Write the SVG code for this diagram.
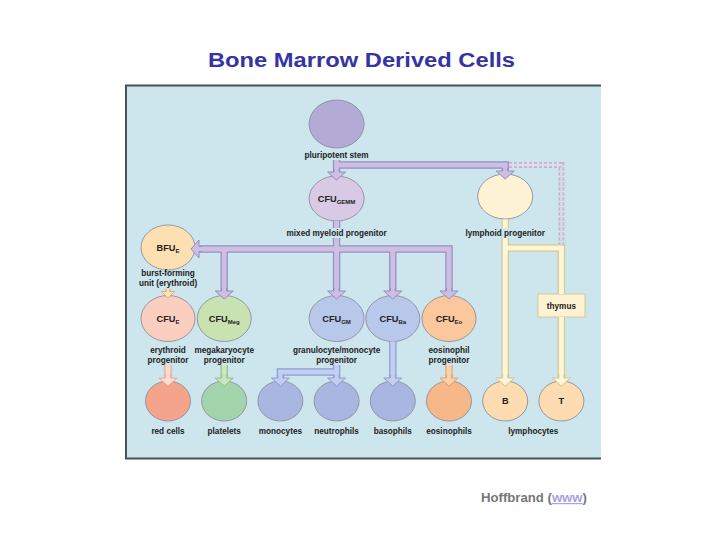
<svg xmlns="http://www.w3.org/2000/svg" xmlns:xlink="http://www.w3.org/1999/xlink" width="720" height="540" viewBox="0 0 720 540">
<style>
.lbl{font-family:"Liberation Sans",Arial,sans-serif;font-size:8.2px;font-weight:bold;fill:#1c1c1c;text-anchor:middle}
.cfu{font-family:"Liberation Sans",Arial,sans-serif;font-size:9.2px;font-weight:bold;fill:#222;text-anchor:middle}
.sub{font-size:6px}
.node{stroke:#8f8f9c;stroke-width:0.9}
.e{fill:none;stroke-width:7.4;stroke-linejoin:miter;stroke-linecap:butt}
.i{fill:none;stroke-width:5;stroke-linejoin:miter;stroke-linecap:butt}
.lav-e{stroke:#988cc2}.lav-i{stroke:#cbc0e2}.lav-h{fill:#cbc0e2;stroke:#988cc2;stroke-width:1}
.cr-e{stroke:#d6c78e}.cr-i{stroke:#fdf5d8}.cr-h{fill:#fdf5d8;stroke:#d6c78e;stroke-width:1}
.pk-e{stroke:#e8a898}.pk-i{stroke:#fbdcd2}.pk-h{fill:#fbdcd2;stroke:#e8a898;stroke-width:1}
.gr-e{stroke:#8fc090}.gr-i{stroke:#cbe6bc}.gr-h{fill:#cbe6bc;stroke:#8fc090;stroke-width:1}
.bl-e{stroke:#8c9dd2}.bl-i{stroke:#c2cff0}.bl-h{fill:#c2cff0;stroke:#8c9dd2;stroke-width:1}
.or-e{stroke:#e8a070}.or-i{stroke:#fbd2ac}.or-h{fill:#fbd2ac;stroke:#e8a070;stroke-width:1}
.lo-h{fill:#fde3b6;stroke:#dcae70;stroke-width:1}
</style>
<defs>
<path id="hd" d="M-2.5,-3 V0 H-9 L0,8 L9,0 H2.5 V-3"/>
<path id="hs" d="M-1.8,-3 V0 H-6.5 L0,6.5 L6.5,0 H1.8 V-3"/>
</defs>

<text x="361.5" y="67" font-family="Liberation Sans, Arial, sans-serif" font-size="19.5" font-weight="bold" fill="#3434a4" text-anchor="middle" textLength="307" lengthAdjust="spacingAndGlyphs">Bone Marrow Derived Cells</text>

<rect x="125" y="85" width="476" height="374" fill="#cde5ec"/>
<path d="M601,85.5 H126 V458.5 H601" fill="none" stroke="#4a5258" stroke-width="2"/>

<g id="nodes">
<g id="stem"><ellipse class="node" cx="336.6" cy="124" rx="27.5" ry="24" fill="#b4aad6"/><text class="lbl" x="336.6" y="158">pluripotent stem</text></g>
<g id="cfugemm"><ellipse class="node" cx="336.6" cy="198.5" rx="27.5" ry="22.5" fill="#d8c9e5"/><text class="cfu" x="336.6" y="201.5">CFU<tspan class="sub" dy="2">GEMM</tspan></text><text class="lbl" x="336.6" y="236">mixed myeloid progenitor</text></g>
<g id="lymphoid"><ellipse class="node" cx="505.2" cy="196.5" rx="27.5" ry="22.5" fill="#fdf3d4"/><text class="lbl" x="505.2" y="236">lymphoid progenitor</text></g>
<g id="bfue"><ellipse class="node" cx="168" cy="247.5" rx="27" ry="22.5" fill="#fde0b2"/><text class="cfu" x="168" y="250.5">BFU<tspan class="sub" dy="2">E</tspan></text><text class="lbl" x="168" y="275.5">burst-forming</text><text class="lbl" x="168" y="286">unit (erythroid)</text></g>
<g id="cfue"><ellipse class="node" cx="168" cy="318.5" rx="27" ry="23" fill="#fbcfc0"/><text class="cfu" x="168" y="321.5">CFU<tspan class="sub" dy="2">E</tspan></text><text class="lbl" x="168" y="352.5">erythroid</text><text class="lbl" x="168" y="362.5">progenitor</text></g>
<g id="cfumeg"><ellipse class="node" cx="224.2" cy="318.5" rx="27" ry="23" fill="#c8e2b2"/><text class="cfu" x="224.2" y="321.5">CFU<tspan class="sub" dy="2">Meg</tspan></text><text class="lbl" x="224.2" y="352.5">megakaryocyte</text><text class="lbl" x="224.2" y="362.5">progenitor</text></g>
<g id="cfugm"><ellipse class="node" cx="336.6" cy="318.5" rx="27.5" ry="23" fill="#b8c8ea"/><text class="cfu" x="336.6" y="321.5">CFU<tspan class="sub" dy="2">GM</tspan></text><text class="lbl" x="336.6" y="352.5">granulocyte/monocyte</text><text class="lbl" x="336.6" y="362.5">progenitor</text></g>
<g id="cfuba"><ellipse class="node" cx="392.8" cy="318.5" rx="27" ry="23" fill="#b8c8ea"/><text class="cfu" x="392.8" y="321.5">CFU<tspan class="sub" dy="2">Ba</tspan></text></g>
<g id="cfueo"><ellipse class="node" cx="449" cy="318.5" rx="27" ry="23" fill="#fbc89e"/><text class="cfu" x="449" y="321.5">CFU<tspan class="sub" dy="2">Eo</tspan></text><text class="lbl" x="449" y="352.5">eosinophil</text><text class="lbl" x="449" y="362.5">progenitor</text></g>
<g id="thymus"><rect x="538" y="294" width="47" height="23" fill="#fdf3d4" stroke="#d6c78e" stroke-width="1"/><text class="lbl" x="561.4" y="308.5">thymus</text></g>
<g id="redcells"><ellipse class="node" cx="168" cy="401" rx="22.5" ry="20" fill="#f4a48a"/><text class="lbl" x="168" y="433.5">red cells</text></g>
<g id="platelets"><ellipse class="node" cx="224.2" cy="401" rx="22.5" ry="20" fill="#a4d4ac"/><text class="lbl" x="224.2" y="433.5">platelets</text></g>
<g id="monocytes"><ellipse class="node" cx="280.4" cy="401" rx="22.5" ry="20" fill="#aab6e2"/><text class="lbl" x="280.4" y="433.5">monocytes</text></g>
<g id="neutrophils"><ellipse class="node" cx="336.6" cy="401" rx="22.5" ry="20" fill="#aab6e2"/><text class="lbl" x="336.6" y="433.5">neutrophils</text></g>
<g id="basophils"><ellipse class="node" cx="392.8" cy="401" rx="22.5" ry="20" fill="#aab6e2"/><text class="lbl" x="392.8" y="433.5">basophils</text></g>
<g id="eosinophils"><ellipse class="node" cx="449" cy="401" rx="22.5" ry="20" fill="#f6b888"/><text class="lbl" x="449" y="433.5">eosinophils</text></g>
<g id="bcell"><ellipse class="node" cx="505.2" cy="401" rx="22.5" ry="20" fill="#fedcb2"/><text class="cfu" x="505.2" y="404" font-size="8.5">B</text></g>
<g id="tcell"><ellipse class="node" cx="561.4" cy="401" rx="22.5" ry="20" fill="#fedcb2"/><text class="cfu" x="561.4" y="404" font-size="8.5">T</text></g>
<text class="lbl" x="533.3" y="433.5">lymphocytes</text>
</g>

<g id="connectors">
<path d="M509,165 H561.4 V245" fill="none" stroke="#cdaed3" stroke-width="6" stroke-dasharray="3 2"/>
<path d="M509,165 H561.4 V245" fill="none" stroke="#e6d8ea" stroke-width="2.4" stroke-dasharray="3 2"/>

<path class="e lav-e" d="M336.6,160 V173 M336.6,165 H505.2 V172 M336.6,221 V228 M336.6,238 V249 M199,249 H449 V292 M224.2,249 V292 M336.6,249 V292 M392.8,249 V292"/>
<path class="i lav-i" d="M336.6,160 V173 M336.6,165 H505.2 V172 M336.6,221 V228 M336.6,238 V249 M199,249 H449 V292 M224.2,249 V292 M336.6,249 V292 M392.8,249 V292"/>
<use href="#hd" class="lav-h" x="336.6" y="172"/>
<use href="#hd" class="lav-h" x="505.2" y="171"/>
<use href="#hd" class="lav-h" x="224.2" y="291"/>
<use href="#hd" class="lav-h" x="336.6" y="291"/>
<use href="#hd" class="lav-h" x="392.8" y="291"/>
<use href="#hd" class="lav-h" x="449" y="291"/>
<use href="#hd" class="lav-h" transform="translate(199,249) rotate(90)"/>

<use href="#hs" class="lo-h" x="168" y="291.5"/>

<path class="e cr-e" d="M505.2,219.5 V228 M505.2,238 V379 M505.2,248 H561.4 V294 M561.4,317 V379"/>
<path class="i cr-i" d="M505.2,219.5 V228 M505.2,238 V379 M505.2,248 H561.4 V294 M561.4,317 V379"/>
<use href="#hd" class="cr-h" x="505.2" y="378"/>
<use href="#hd" class="cr-h" x="561.4" y="378"/>

<path class="e pk-e" d="M168,365 V379"/><path class="i pk-i" d="M168,365 V379"/>
<use href="#hd" class="pk-h" x="168" y="378"/>
<path class="e gr-e" d="M224.2,365 V379"/><path class="i gr-i" d="M224.2,365 V379"/>
<use href="#hd" class="gr-h" x="224.2" y="378"/>
<path class="e bl-e" d="M336.6,365 V379 M336.6,372 H280.4 V379 M392.8,341.5 V379"/>
<path class="i bl-i" d="M336.6,365 V379 M336.6,372 H280.4 V379 M392.8,341.5 V379"/>
<use href="#hd" class="bl-h" x="280.4" y="378"/>
<use href="#hd" class="bl-h" x="336.6" y="378"/>
<use href="#hd" class="bl-h" x="392.8" y="378"/>
<path class="e or-e" d="M449,365 V379"/><path class="i or-i" d="M449,365 V379"/>
<use href="#hd" class="or-h" x="449" y="378"/>
</g>

<text x="481" y="502" font-family="Liberation Sans, Arial, sans-serif" font-size="12" font-weight="bold" fill="#777777" textLength="106" lengthAdjust="spacingAndGlyphs">Hoffbrand (<tspan fill="#a4a4e0" text-decoration="underline">www</tspan>)</text>
</svg>
